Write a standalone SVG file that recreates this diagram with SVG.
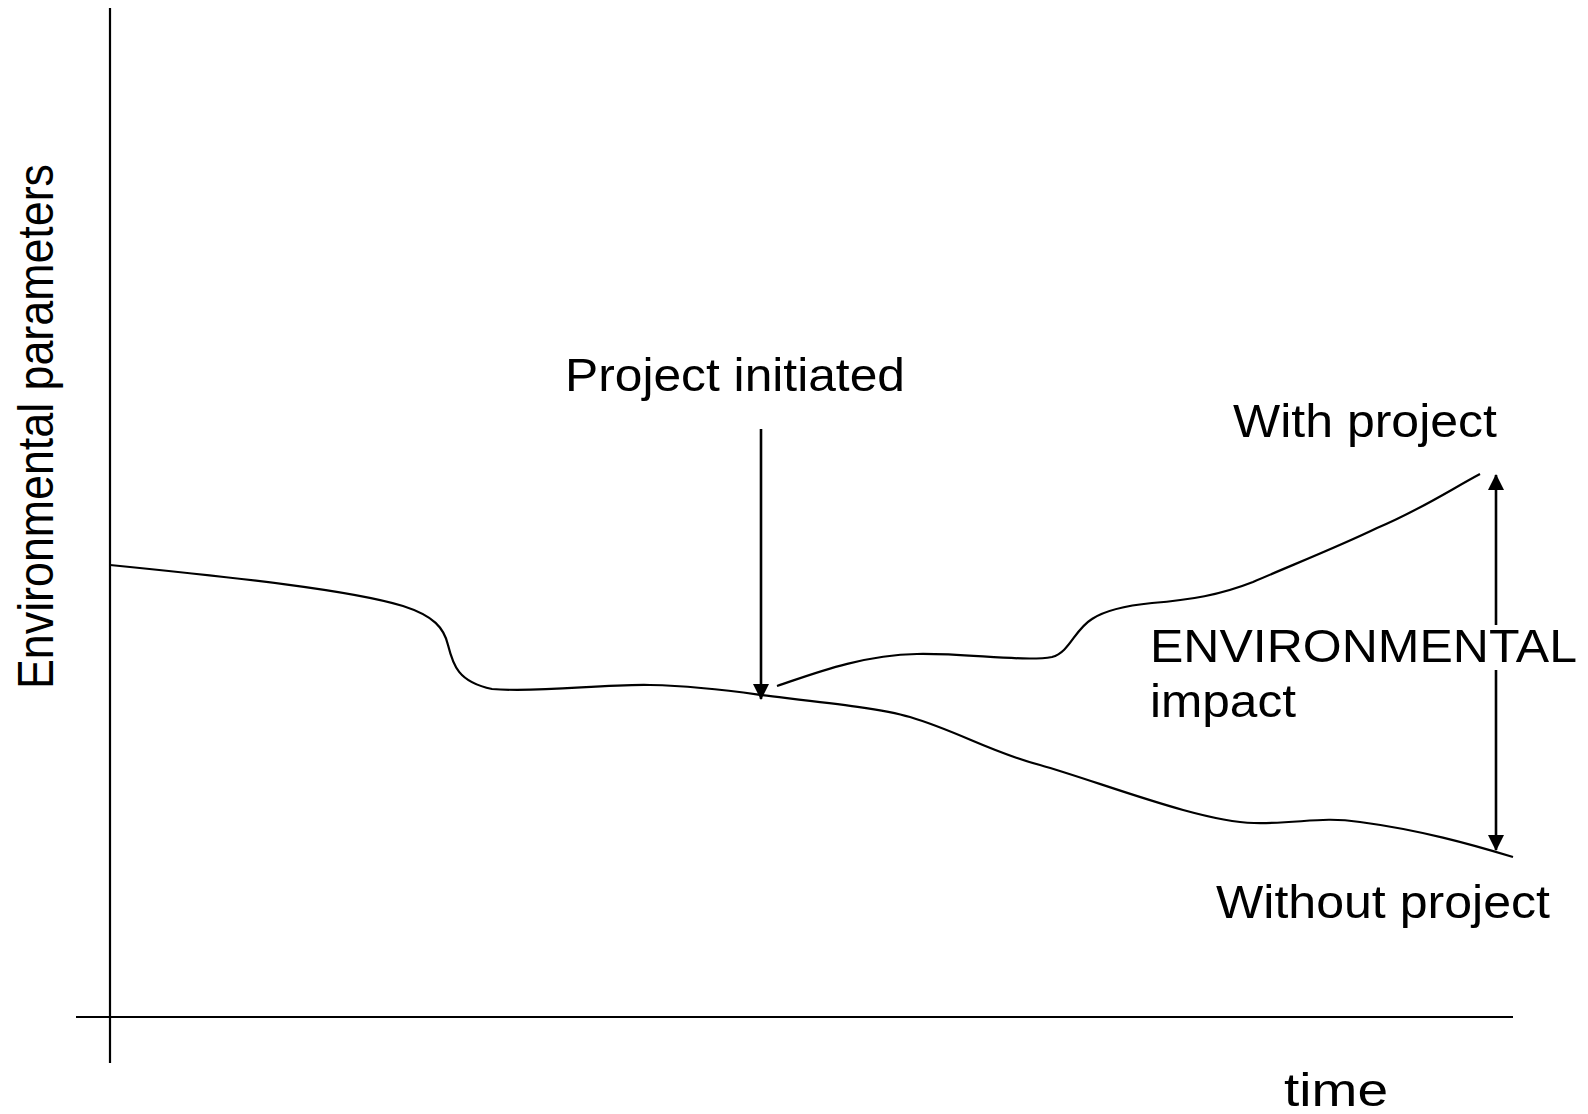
<svg xmlns="http://www.w3.org/2000/svg" width="1588" height="1114" viewBox="0 0 1588 1114">
<style>
.ln{fill:none;stroke:#000;stroke-width:2.2}
.ar{fill:none;stroke:#000;stroke-width:2.6}
.t{font-family:"Liberation Sans",Arial,sans-serif;font-size:47px;fill:#000}
</style>
<defs>
<marker id="ah" viewBox="0 0 16 16" refX="15" refY="8" markerWidth="16" markerHeight="16" markerUnits="userSpaceOnUse" orient="auto">
<path d="M0,0 L16,8 L0,16 Z" fill="#000"/>
</marker>
</defs>
<rect width="1588" height="1114" fill="#fff"/>
<g id="axes">
<line class="ln" x1="110" y1="8" x2="110" y2="1063"/>
<line class="ln" x1="76" y1="1017" x2="1513" y2="1017"/>
</g>
<g id="curves">
<path id="baseline-curve" class="ln" d="M110,565 C240,578 350,590 403,606 C434,616 444,628 448,645 C453,665 458,682 492,689 C540,693 600,684 650,685 C700,686 740,692 761,695 C820,702 880,708 910,717 C960,732 990,752 1040,765 C1100,782 1200,822 1254,823 C1300,824 1320,816 1360,822 C1420,830 1470,844 1513,857"/>
<path id="with-project-curve" class="ln" d="M777,686 C810,675 860,655 917,654 C965,653 1025,662 1052,657 C1070,652 1074,630 1092,619 C1104,611 1122,606 1152,603 C1190,600 1220,595 1253,582 C1292,565 1340,546 1377,528 C1420,510 1450,490 1480,474"/>
</g>
<g id="connectors">
<line class="ar" x1="761" y1="429" x2="761" y2="699" marker-end="url(#ah)"/>
<line class="ar" x1="1496" y1="625" x2="1496" y2="475" marker-end="url(#ah)"/>
<line class="ar" x1="1496" y1="670" x2="1496" y2="850" marker-end="url(#ah)"/>
</g>
<g id="labels">
<text class="t" x="565" y="391" textLength="340" lengthAdjust="spacingAndGlyphs">Project initiated</text>
<text class="t" x="1233" y="437" textLength="264" lengthAdjust="spacingAndGlyphs">With project</text>
<text class="t" x="1150" y="662" textLength="427" lengthAdjust="spacingAndGlyphs">ENVIRONMENTAL</text>
<text class="t" x="1150" y="717" textLength="146" lengthAdjust="spacingAndGlyphs">impact</text>
<text class="t" x="1216" y="918" textLength="334" lengthAdjust="spacingAndGlyphs">Without project</text>
<text class="t" x="1284" y="1106" textLength="104" lengthAdjust="spacingAndGlyphs">time</text>
<text class="t" style="font-size:50px" transform="translate(53,689) rotate(-90)" x="0" y="0" textLength="525" lengthAdjust="spacingAndGlyphs">Environmental parameters</text>
</g>
</svg>
